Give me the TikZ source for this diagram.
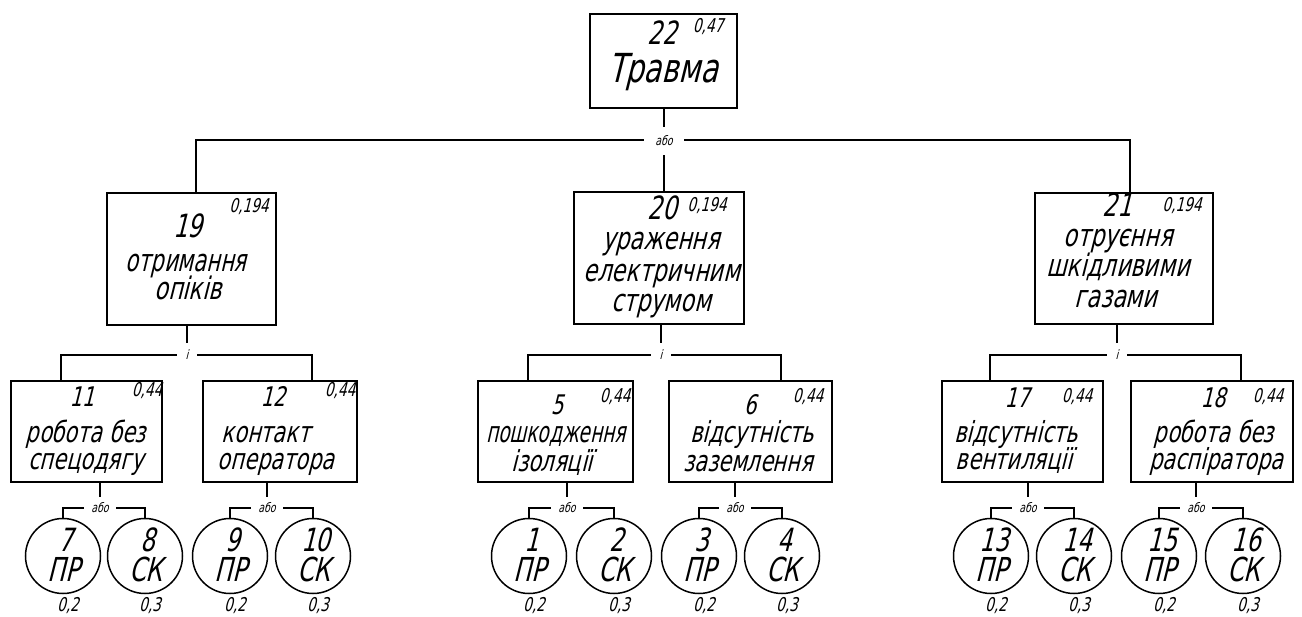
\documentclass[tikz,border=0pt]{standalone}
\usepackage{fontspec}
\IfFontExistsTF{FiraSans-LightItalic.otf}{%
  \newfontfamily\gost{FiraSans-LightItalic.otf}[FakeStretch=0.78,FakeSlant=0.1]}{%
  \newfontfamily\gost{DejaVu Sans}[FakeStretch=0.72,FakeSlant=0.25]}
\newcommand\gostsz[1]{\gost\fontsize{#1}{#1}\selectfont}
\tikzset{
  box/.style={draw, rectangle, line width=1.8pt, inner sep=0pt},
  ring/.style={draw, circle, line width=1.5pt, inner sep=0pt, minimum size=75pt},
  txt/.style={inner sep=0pt, anchor=base},
  ttl/.style={txt, font=\gostsz{40}},
  numA/.style={txt, font=\gostsz{32}},
  numB/.style={txt, font=\gostsz{27}},
  linA/.style={txt, font=\gostsz{31}},
  linB/.style={txt, font=\gostsz{29}},
  val/.style={txt, font=\gostsz{19}},
  cnum/.style={txt, font=\gostsz{32}},
  ctyp/.style={txt, font=\gostsz{33}},
  cval/.style={txt, font=\gostsz{19}},
  gateA/.style={inner sep=0pt, font=\gostsz{13}, minimum width=40pt, minimum height=28pt},
  gateB/.style={inner sep=0pt, font=\gostsz{13}, minimum width=20pt, minimum height=24pt},
  gateC/.style={inner sep=0pt, font=\gostsz{13}, minimum width=32pt, minimum height=22pt},
  conn/.style={line width=1.6pt}
}
\begin{document}
\begin{tikzpicture}[x=1pt,y=-1pt]
\useasboundingbox (0,0) rectangle (1302,617);
\fill[white] (0,0) rectangle (1302,617);

% ---------- boxes ----------
\node[box, minimum width=147pt, minimum height=94pt] (b22) at (663.5,61) {};
\node[box, minimum width=169pt, minimum height=132pt] (b19) at (191.5,259) {};
\node[box, minimum width=170pt, minimum height=132pt] (b20) at (659,258) {};
\node[box, minimum width=178pt, minimum height=131pt] (b21) at (1124,258.5) {};
\node[box, minimum width=151pt, minimum height=101pt] (b11) at (86.5,431.5) {};
\node[box, minimum width=154pt, minimum height=101pt] (b12) at (280,431.5) {};
\node[box, minimum width=155pt, minimum height=101pt] (b5) at (555.5,431.5) {};
\node[box, minimum width=163pt, minimum height=101pt] (b6) at (750.5,431.5) {};
\node[box, minimum width=161pt, minimum height=101pt] (b17) at (1022.5,431.5) {};
\node[box, minimum width=162pt, minimum height=101pt] (b18) at (1212,431.5) {};

% ---------- circles ----------
\node[ring] (c7) at (63,556) {};
\node[ring] (c8) at (145,556) {};
\node[ring] (c9) at (230,556) {};
\node[ring] (c10) at (313,556) {};
\node[ring] (c1) at (529,556) {};
\node[ring] (c2) at (614,556) {};
\node[ring] (c3) at (699,556) {};
\node[ring] (c4) at (782,556) {};
\node[ring] (c13) at (991,556) {};
\node[ring] (c14) at (1074,556) {};
\node[ring] (c15) at (1159,556) {};
\node[ring] (c16) at (1243,556) {};

% ---------- texts: top ----------
\node[numA] (n22) at (662,45) {22};
\node[val] (v22) at (708,33) {0,47};
\node[ttl] (t22) at (663,83) {Травма};

% level 1
\node[numA] (n19) at (188,238) {19};
\node[val] (v19) at (249,213) {0,194};
\node[linA] (t19a) at (186,272) {\scalebox{0.94}[1]{отримання}};
\node[linA] (t19b) at (188,300) {опіків};

\node[numA] (n20) at (662,220) {20};
\node[val] (v20) at (707,212) {0,194};
\node[linA] (t20a) at (661,250) {ураження};
\node[linA] (t20b) at (662,282) {електричним};
\node[linA] (t20c) at (661,312) {струмом};

\node[numA] (n21) at (1117,217) {21};
\node[val] (v21) at (1182,212) {0,194};
\node[linA] (t21a) at (1118,247) {отруєння};
\node[linA] (t21b) at (1118,277) {шкідливими};
\node[linA] (t21c) at (1116,308) {газами};

% level 2
\node[numB] (n11) at (82,407) {11};
\node[val] (v11) at (147,397) {0,44};
\node[linB] (t11a) at (86,443) {робота без};
\node[linB] (t11b) at (86,470) {спецодягу};

\node[numB] (n12) at (273,407) {12};
\node[val] (v12) at (340,397) {0,44};
\node[linB] (t12a) at (266,443) {контакт};
\node[linB] (t12b) at (276,470) {оператора};

\node[numB] (n5) at (557,415) {5};
\node[val] (v5) at (615,403) {0,44};
\node[linB] (t5a) at (556,443) {\scalebox{0.89}[1]{пошкодження}};
\node[linB] (t5b) at (552,472) {ізоляції};

\node[numB] (n6) at (750,415) {6};
\node[val] (v6) at (808,403) {0,44};
\node[linB] (t6a) at (752,443) {відсутність};
\node[linB] (t6b) at (748,472) {заземлення};

\node[numB] (n17) at (1017,408) {17};
\node[val] (v17) at (1077,403) {0,44};
\node[linB] (t17a) at (1016,443) {відсутність};
\node[linB] (t17b) at (1014,470) {вентиляції};

\node[numB] (n18) at (1213,408) {18};
\node[val] (v18) at (1268,403) {0,44};
\node[linB] (t18a) at (1214,443) {робота без};
\node[linB] (t18b) at (1216,470) {распіратора};

% circle texts
\foreach \nm/\cx/\num/\typ/\vv in {c7/63/7/ПР/0{,}2, c8/145/8/СК/0{,}3, c9/230/9/ПР/0{,}2, c10/313/10/СК/0{,}3,
  c1/529/1/ПР/0{,}2, c2/614/2/СК/0{,}3, c3/699/3/ПР/0{,}2, c4/782/4/СК/0{,}3,
  c13/991/13/ПР/0{,}2, c14/1074/14/СК/0{,}3, c15/1159/15/ПР/0{,}2, c16/1243/16/СК/0{,}3}{
  \node[cnum] (\nm n) at (\cx+3,551) {\num};
  \node[ctyp] (\nm t) at (\cx+1,581) {\typ};
  \node[cval] (\nm v) at (\cx+5,611) {\vv};
}

% ---------- gates ----------
\node[gateA] (g0) at (664,141) {або};
\node[gateB] (g19) at (187,355) {і};
\node[gateB] (g20) at (661,355) {і};
\node[gateB] (g21) at (1117,355) {і};
\node[gateC] (g11) at (100,508) {або};
\node[gateC] (g12) at (267,508) {або};
\node[gateC] (g5) at (567,508) {або};
\node[gateC] (g6) at (735,508) {або};
\node[gateC] (g17) at (1028,508) {або};
\node[gateC] (g18) at (1196,508) {або};

% ---------- connectors: level 1 ----------
\coordinate (k19) at (196,140);
\coordinate (k21) at (1130,140);
\draw[conn] (g0 |- b22.south) -- (g0.north);
\draw[conn] (g0.south) -- (g0 |- b20.north);
\draw[conn] (g0.west |- k19) -- (k19) -- (k19 |- b19.north);
\draw[conn] (g0.east |- k21) -- (k21) -- (k21 |- b21.north);

% ---------- connectors: level 2 ----------
\coordinate (k11) at (61,355);
\coordinate (k12) at (312,355);
\coordinate (k5) at (528,355);
\coordinate (k6) at (781,355);
\coordinate (k17) at (990,355);
\coordinate (k18) at (1241,355);
\foreach \g/\b/\l/\r/\bl/\br in {g19/b19/k11/k12/b11/b12, g20/b20/k5/k6/b5/b6, g21/b21/k17/k18/b17/b18}{
  \draw[conn] (\g |- \b.south) -- (\g.north);
  \draw[conn] (\g.west) -- (\l) -- (\l |- \bl.north);
  \draw[conn] (\g.east) -- (\r) -- (\r |- \br.north);
}

% ---------- connectors: level 3 ----------
\foreach \g/\b/\l/\r in {g11/b11/c7/c8, g12/b12/c9/c10, g5/b5/c1/c2, g6/b6/c3/c4, g17/b17/c13/c14, g18/b18/c15/c16}{
  \draw[conn] (\g |- \b.south) -- (\g.north);
  \draw[conn] (\g.west) -- (\l |- \g) -- (\l.north);
  \draw[conn] (\g.east) -- (\r |- \g) -- (\r.north);
}
\end{tikzpicture}
\end{document}
